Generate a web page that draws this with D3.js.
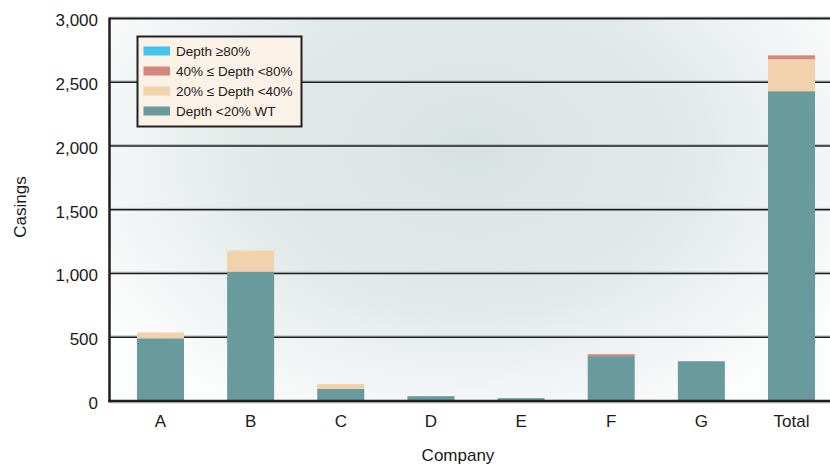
<!DOCTYPE html>
<html>
<head>
<meta charset="utf-8">
<script src="https://cdn.jsdelivr.net/npm/d3@7"></script>
<style>
  html, body { margin: 0; padding: 0; background: #ffffff; }
  svg { display: block; }
  text { font-family: "Liberation Sans", Arial, Helvetica, sans-serif; fill: #1a1a1a; }
</style>
</head>
<body>
<svg id="chart" width="830" height="466"></svg>
<script>
// Casings by company, stacked by wall-loss depth class
const categories = ["A", "B", "C", "D", "E", "F", "G", "Total"];
const depthUnder20 = [492, 1015, 94, 38, 22, 352, 312, 2430];
const depth20to40  = [46, 165, 39, 0, 0, 0, 0, 250];
const depth40to80  = [0, 0, 0, 0, 0, 15, 0, 31];
const depthOver80  = [0, 0, 0, 0, 0, 0, 0, 0];
const yTicks = [0, 500, 1000, 1500, 2000, 2500, 3000];

const seriesNames = ["Depth <20% WT", "20% \u2264 Depth <40%", "40% \u2264 Depth <80%", "Depth \u226580%"];
const seriesColors = ["#699a9e", "#f1d2ac", "#d5877c", "#44c4ec"];
const seriesValues = [depthUnder20, depth20to40, depth40to80, depthOver80];

const svg = d3.select("#chart");
const W = 830;
const plot = { left: 109.5, right: 830, top: 18.5, bottom: 401 };

const rows = categories.map((c, i) => {
  const r = { cat: c };
  seriesNames.forEach((s, k) => { r[s] = seriesValues[k][i]; });
  return r;
});
const stack = d3.stack().keys(seriesNames)(rows);

const y = d3.scaleLinear().domain([0, 3000]).range([plot.bottom, plot.top]);
const x = d3.scaleBand().domain(categories)
  .range([110, 842]).paddingInner(0.4786).paddingOuter(0.2995);

// soft shaded backdrop
const defs = svg.append("defs");
const grad = defs.append("radialGradient")
  .attr("id", "bgGlow").attr("gradientUnits", "userSpaceOnUse")
  .attr("cx", 0).attr("cy", 0).attr("r", 1)
  .attr("gradientTransform", "translate(470,150) scale(430,300)");
grad.append("stop").attr("offset", 0).attr("stop-color", "#d9e2e2");
grad.append("stop").attr("offset", 0.55).attr("stop-color", "#e4eaea");
grad.append("stop").attr("offset", 1).attr("stop-color", "#fcfdfd");

svg.append("rect")
  .attr("x", plot.left).attr("y", plot.top)
  .attr("width", plot.right - plot.left).attr("height", plot.bottom - plot.top)
  .attr("fill", "url(#bgGlow)");

// horizontal grid lines with a faint highlight above each
const grid = svg.append("g");
yTicks.filter(t => t > 0).forEach(t => {
  grid.append("line").attr("x1", plot.left).attr("x2", plot.right)
    .attr("y1", y(t) - 1.3).attr("y2", y(t) - 1.3)
    .attr("stroke", "#b3b6b6").attr("stroke-width", 1);
  grid.append("line").attr("x1", plot.left).attr("x2", plot.right)
    .attr("y1", y(t)).attr("y2", y(t))
    .attr("stroke", "#1e1e1e").attr("stroke-width", t === 3000 ? 2.2 : 1.4);
});

// stacked bars
svg.append("g").selectAll("g").data(stack).join("g")
  .attr("fill", (d, i) => seriesColors[i])
  .selectAll("rect").data(d => d).join("rect")
  .attr("x", d => x(d.data.cat))
  .attr("width", x.bandwidth())
  .attr("y", d => y(d[1]))
  .attr("height", d => Math.max(0, y(d[0]) - y(d[1])));

// axis lines
svg.append("line").attr("x1", plot.left).attr("x2", plot.right)
  .attr("y1", plot.bottom + 1.8).attr("y2", plot.bottom + 1.8)
  .attr("stroke", "#b8baba").attr("stroke-width", 1);
svg.append("line").attr("x1", plot.left - 1.2).attr("x2", plot.right)
  .attr("y1", plot.bottom).attr("y2", plot.bottom)
  .attr("stroke", "#1e1e1e").attr("stroke-width", 2.4);
svg.append("line").attr("x1", plot.left).attr("x2", plot.left)
  .attr("y1", plot.top - 1.1).attr("y2", plot.bottom + 1.2)
  .attr("stroke", "#1e1e1e").attr("stroke-width", 2.5);

// y tick labels
const fmt = d3.format(",");
svg.append("g").selectAll("text").data(yTicks).join("text")
  .attr("x", 98).attr("y", d => y(d) + 2)
  .attr("dy", "0.35em").attr("text-anchor", "end")
  .style("font-size", "17px")
  .text(d => fmt(d));

// category labels
svg.append("g").selectAll("text").data(categories).join("text")
  .attr("x", d => x(d) + x.bandwidth() / 2).attr("y", 421)
  .attr("dy", "0.35em").attr("text-anchor", "middle")
  .style("font-size", "17px")
  .text(d => d);

// axis titles
svg.append("text").attr("x", 458).attr("y", 455).attr("dy", "0.35em")
  .attr("text-anchor", "middle").style("font-size", "17px").text("Company");
svg.append("text").attr("transform", "translate(20,207) rotate(-90)")
  .attr("dy", "0.35em").attr("text-anchor", "middle")
  .style("font-size", "17px").text("Casings");

// legend (top entry is the deepest class)
const legend = svg.append("g");
legend.append("rect").attr("x", 137.5).attr("y", 36.5).attr("width", 164).attr("height", 90)
  .attr("fill", "#faf1e7").attr("stroke", "#222").attr("stroke-width", 2);
const legendOrder = [3, 2, 1, 0];
legendOrder.forEach((k, j) => {
  const cy = 51 + j * 20;
  legend.append("rect").attr("x", 143.5).attr("y", cy - 4.5).attr("width", 26.5).attr("height", 9)
    .attr("fill", seriesColors[k]);
  legend.append("text").attr("x", 176).attr("y", cy).attr("dy", "0.36em")
    .style("font-size", "13.5px").text(seriesNames[k]);
});
</script>
</body>
</html>
